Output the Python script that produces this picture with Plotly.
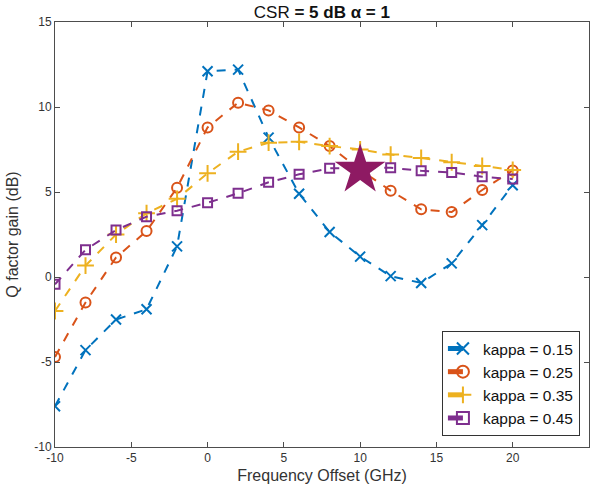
import plotly.graph_objects as go

# Frequency offsets (GHz) shared by all kappa curves
freq = [-10, -8, -6, -4, -2, 0, 2, 4, 6, 8, 10, 12, 14, 16, 18, 20]

# Q factor gain (dB) for each kappa value
gain_k015 = [-7.6, -4.3, -2.5, -1.9, 1.8, 12.1, 12.2, 8.2, 4.9, 2.65, 1.2, 0.05, -0.35, 0.8, 3.05, 5.4]
gain_k025 = [-4.7, -1.5, 1.15, 2.7, 5.25, 8.8, 10.25, 9.8, 8.8, 7.7, 6.3, 5.08, 3.98, 3.82, 5.12, 6.27]
gain_k035 = [-2.0, 0.67, 2.5, 3.75, 4.6, 6.1, 7.37, 7.9, 7.95, 7.7, 7.5, 7.2, 7.0, 6.75, 6.53, 6.3]
gain_k045 = [-0.43, 1.6, 2.76, 3.55, 3.9, 4.37, 4.92, 5.57, 6.04, 6.39, 6.42, 6.42, 6.25, 6.15, 5.9, 5.76]

series_names = ["kappa = 0.15", "kappa = 0.25", "kappa = 0.35", "kappa = 0.45"]
series_values = [gain_k015, gain_k025, gain_k035, gain_k045]
series_colors = ["#0072BD", "#D95319", "#EDB120", "#7E2F8E"]
series_symbols = ["x-thin-open", "circle-open", "cross-thin-open", "square-open"]
series_sizes = [10, 10, 12, 9]

# Highlighted operating point
star_x = [10]
star_y = [6.3]

x_ticks = [-10, -5, 0, 5, 10, 15, 20, 25]
y_ticks = [-10, -5, 0, 5, 10, 15]

font_family = "Liberation Sans, Arial, Helvetica, sans-serif"
axis_color = "#4d4d4d"

fig = go.Figure()

for name, vals, col, sym, sz in zip(series_names, series_values, series_colors, series_symbols, series_sizes):
    fig.add_trace(go.Scatter(
        x=freq, y=vals, name=name, mode="lines+markers",
        line=dict(color=col, width=2, dash="dash"),
        marker=dict(symbol=sym, size=sz, color=col, line=dict(color=col, width=2)),
    ))

fig.add_trace(go.Scatter(
    x=star_x, y=star_y, mode="markers", showlegend=False,
    marker=dict(symbol="star", size=38, color="#8E1A63", line=dict(width=0)),
))

axis_common = dict(
    showgrid=False, zeroline=False, showline=True, linecolor=axis_color, linewidth=1,
    mirror="ticks", ticks="inside", ticklen=5, tickcolor=axis_color,
    tickfont=dict(family=font_family, size=12, color="#333333"),
)

fig.update_xaxes(
    range=[-10, 25], tickvals=x_ticks, ticktext=[str(v) for v in x_ticks],
    title=dict(text="Frequency Offset (GHz)", font=dict(family=font_family, size=16, color="#333333"), standoff=5),
    **axis_common,
)
fig.update_yaxes(
    range=[-10, 15], tickvals=y_ticks, ticktext=[str(v) for v in y_ticks],
    title=dict(text="Q factor gain (dB)", font=dict(family=font_family, size=16, color="#333333"), standoff=11),
    **axis_common,
)

fig.update_layout(
    width=595, height=488,
    margin=dict(l=55, r=6, t=22, b=41),
    paper_bgcolor="white", plot_bgcolor="white",
    font=dict(family=font_family, color="#333333"),
    title=dict(
        text="CSR <b>= 5 dB α = 1</b>",
        x=0.541, xanchor="center", y=0.976, yanchor="middle",
        font=dict(family=font_family, size=17, color="#111111"),
    ),
    legend=dict(
        x=0.983, xanchor="right", y=0.026, yanchor="bottom",
        bgcolor="white", bordercolor="#333333", borderwidth=1,
        font=dict(family=font_family, size=15.5, color="#111111"),
        tracegroupgap=0, itemwidth=30, itemsizing="constant",
    ),
    showlegend=True,
)

fig.write_html("out.html")
